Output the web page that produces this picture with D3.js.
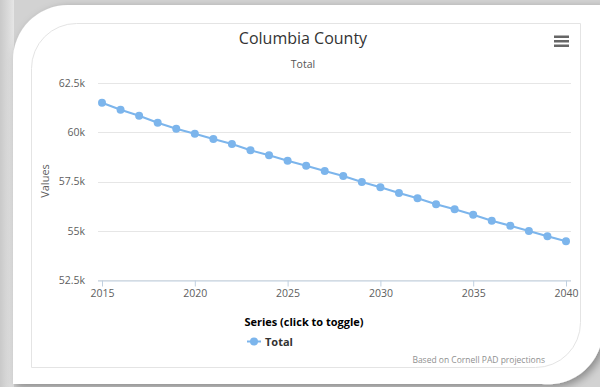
<!DOCTYPE html>
<html><head><meta charset="utf-8">
<script src="https://cdn.jsdelivr.net/npm/d3@7"></script>
<style>body{margin:0;background:#d4d4d4;}svg{display:block;}</style>
</head><body>
<svg id="c" width="600" height="387"></svg>
<script>
const years = [2015,2016,2017,2018,2019,2020,2021,2022,2023,2024,2025,2026,2027,2028,2029,2030,2031,2032,2033,2034,2035,2036,2037,2038,2039,2040];
const totals = [61500,61144,60840,60485,60180,59926,59657,59404,59084,58830,58556,58302,58033,57779,57475,57206,56916,56647,56343,56089,55816,55510,55256,54987,54718,54464];
const yTicks = [52500,55000,57500,60000,62500];
const yTickLabels = ["52.5k","55k","57.5k","60k","62.5k"];
const xTicks = [2015,2020,2025,2030,2035,2040];
const title = "Columbia County", subtitle = "Total", yTitle = "Values";
const legendTitle = "Series (click to toggle)", seriesName = "Total";
const credits = "Based on Cornell PAD projections";

const svg = d3.select("#c");
const font = "'Open Sans', 'DejaVu Sans', sans-serif";
const defs = svg.append("defs");
const lg = defs.append("linearGradient").attr("id","lg").attr("x1","0").attr("x2","1");
lg.append("stop").attr("offset","0").attr("stop-color","#c9c9c9");
lg.append("stop").attr("offset","1").attr("stop-color","#e6e6e6");
const f = defs.append("filter").attr("id","sh").attr("x","-10%").attr("y","-10%").attr("width","130%").attr("height","130%");
f.append("feDropShadow").attr("dx",3).attr("dy",3).attr("stdDeviation",4).attr("flood-color","#000").attr("flood-opacity",0.35);

svg.append("rect").attr("width",600).attr("height",387).attr("fill","#d2d2d2");
svg.append("rect").attr("width",14).attr("height",387).attr("fill","url(#lg)");

// outer card
const R = 55;
svg.append("path").attr("fill","#fff").attr("filter","url(#sh)")
  .attr("d",`M${13+R},5 H603 V${384-R} A${R},${R} 0 0 1 ${597-R},384 H13 V${5+R} A${R},${R} 0 0 1 ${13+R},5 Z`);
// inner container
const r = 45;
svg.append("path").attr("fill","#fff").attr("stroke","#e4e4e4").attr("stroke-width",1)
  .attr("d",`M${31.5+r},23.5 H580.5 V${367.5-r} A${r},${r} 0 0 1 ${580.5-r},367.5 H31.5 V${23.5+r} A${r},${r} 0 0 1 ${31.5+r},23.5 Z`);

const x = d3.scaleLinear().domain([2015,2040]).range([102,566]);
const y = d3.scaleLinear().domain([52500,62500]).range([280,83]);
const plotL = 98, plotR = 571;

// gridlines
svg.append("g").selectAll("line").data(yTicks).join("line")
  .attr("x1",plotL).attr("x2",plotR).attr("y1",d=>Math.round(y(d))+0.5).attr("y2",d=>Math.round(y(d))+0.5)
  .attr("stroke","#e6e6e6").attr("stroke-width",1);

// y axis labels
const ya = svg.append("g").attr("transform",`translate(${plotL},0)`)
  .call(d3.axisLeft(y).tickValues(yTicks).tickFormat((d,i)=>yTickLabels[i]).tickSize(0).tickPadding(13));
ya.select(".domain").remove();
ya.selectAll("text").attr("font-family",font).attr("font-size","10.5px").attr("fill","#606060");

// x axis
const xa = svg.append("g").attr("transform",`translate(0,280.5)`)
  .call(d3.axisBottom(x).tickValues(xTicks).tickFormat(d3.format("d")).tickSize(6).tickPadding(3).tickSizeOuter(0));
xa.select(".domain").attr("d",`M${plotL},0.5H${plotR}`).attr("stroke","#c0d0e0");
xa.selectAll(".tick line").attr("stroke","#c0d0e0");
xa.selectAll("text").attr("font-family",font).attr("font-size","10.5px").attr("fill","#606060");

// series
const pts = years.map((yr,i)=>({yr,v:totals[i]}));
svg.append("path").datum(pts).attr("fill","none").attr("stroke","#7cb5ec").attr("stroke-width",2)
  .attr("d",d3.line().x(d=>x(d.yr)).y(d=>y(d.v)));
svg.append("g").selectAll("circle").data(pts).join("circle")
  .attr("cx",d=>x(d.yr)).attr("cy",d=>y(d.v)).attr("r",4).attr("fill","#7cb5ec");

// titles
svg.append("text").attr("x",303).attr("y",44).attr("text-anchor","middle").attr("font-family",font)
  .attr("font-size","16px").attr("fill","#333").text(title);
svg.append("text").attr("x",303).attr("y",68).attr("text-anchor","middle").attr("font-family",font)
  .attr("font-size","10.5px").attr("fill","#555").text(subtitle);
svg.append("text").attr("transform","translate(49,181) rotate(-90)").attr("text-anchor","middle").attr("font-family",font)
  .attr("font-size","11px").attr("fill","#606060").text(yTitle);

// menu icon
svg.append("g").selectAll("rect").data([0,1,2]).join("rect")
  .attr("x",554).attr("y",d=>35.5+d*4.5).attr("width",15).attr("height",2.5).attr("fill","#666");

// legend
svg.append("text").attr("x",304).attr("y",326).attr("text-anchor","middle").attr("font-family",font)
  .attr("font-size","11px").attr("font-weight","bold").attr("fill","#000").text(legendTitle);
svg.append("line").attr("x1",247).attr("x2",261).attr("y1",341.5).attr("y2",341.5).attr("stroke","#7cb5ec").attr("stroke-width",2);
svg.append("circle").attr("cx",254).attr("cy",341.5).attr("r",4).attr("fill","#7cb5ec");
svg.append("text").attr("x",265).attr("y",345.5).attr("font-family",font)
  .attr("font-size","11px").attr("font-weight","bold").attr("fill","#333").text(seriesName);

// credits
svg.append("text").attr("x",545).attr("y",363).attr("text-anchor","end").attr("font-family",font)
  .attr("font-size","8.5px").attr("fill","#909090").text(credits);
</script>
</body></html>
